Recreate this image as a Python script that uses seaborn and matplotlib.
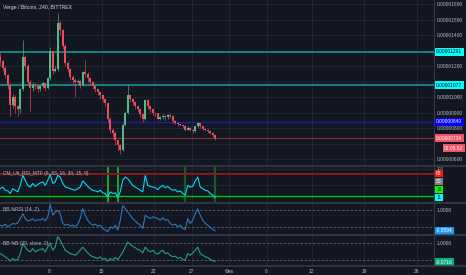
import matplotlib
matplotlib.use("Agg")
import matplotlib.pyplot as plt
import matplotlib.dates as mdates
from matplotlib.lines import Line2D
import pandas as pd
import seaborn as sns

# ---------------- data ----------------
title = "Verge / Bitcoin, 240, BITTREX"
rsi_title = "CM_Ult_RSI_MTF (6, 83, 16, 30, 15, 9)"
bbr_title = "BB %RSI (14, 2)"
bbb_title = "BB %B (20, close, 2)"

start_time = "2018-01-01 12:00"
bar_freq = "8h"

# prices in satoshi (1e-8 BTC)
opens = [1260, 1230, 1190, 1140, 1080, 950, 1000, 940, 920, 1050,
         1260, 1200, 1100, 1060, 1080, 1070, 1050, 1070, 1090, 1060,
         1120, 1300, 1170, 1180, 1480, 1430, 1330, 1220, 1180, 1130,
         1110, 1100, 1105, 1080, 1160, 1150, 1120, 1100, 1070, 1050,
         1030, 1010, 985, 960, 860, 790, 770, 720, 690, 660,
         820, 900, 1010, 990, 970, 940, 925, 890, 860, 980,
         940, 920, 900, 895, 860, 870, 880, 868, 885, 875,
         845, 835, 825, 820, 810, 790, 800, 790, 780, 810,
         830, 810, 795, 790, 780, 770, 755]
closes = [1230, 1190, 1140, 1080, 950, 1000, 940, 920, 1050, 1260,
          1200, 1100, 1060, 1080, 1070, 1050, 1070, 1090, 1060, 1120,
          1300, 1170, 1180, 1480, 1430, 1330, 1220, 1180, 1130, 1110,
          1100, 1105, 1080, 1160, 1150, 1120, 1100, 1070, 1050, 1030,
          1010, 985, 960, 860, 790, 770, 720, 690, 660, 820,
          900, 1010, 990, 970, 940, 925, 890, 860, 980, 940,
          920, 900, 895, 860, 870, 880, 868, 885, 875, 845,
          835, 825, 820, 810, 790, 800, 790, 780, 810, 830,
          810, 795, 790, 780, 770, 755, 734]
highs = [1290, 1240, 1200, 1150, 1090, 1020, 1010, 950, 1060, 1370,
         1270, 1210, 1110, 1100, 1090, 1080, 1080, 1100, 1095, 1130,
         1320, 1300, 1200, 1540, 1490, 1440, 1340, 1230, 1190, 1140,
         1120, 1115, 1110, 1170, 1240, 1160, 1125, 1105, 1075, 1055,
         1035, 1015, 990, 965, 870, 800, 780, 725, 700, 830,
         910, 1080, 1020, 995, 975, 945, 930, 895, 990, 985,
         945, 925, 905, 900, 880, 890, 885, 890, 890, 880,
         850, 840, 828, 822, 812, 810, 805, 795, 815, 840,
         832, 812, 798, 792, 782, 772, 757]
lows = [1200, 1170, 1120, 1050, 880, 930, 900, 880, 900, 1040,
        1180, 1080, 910, 1040, 1050, 1030, 1040, 1060, 1040, 1050,
        1110, 1150, 1160, 1170, 1400, 1310, 1200, 1160, 1110, 1090,
        1000, 1090, 1060, 1070, 1130, 1100, 1080, 1050, 1030, 1010,
        990, 970, 940, 840, 770, 740, 690, 660, 630, 650,
        810, 890, 970, 950, 920, 910, 870, 840, 850, 925,
        905, 885, 880, 850, 855, 860, 855, 860, 865, 835,
        825, 815, 810, 800, 780, 785, 780, 770, 775, 800,
        800, 785, 780, 770, 760, 745, 725]

rsi = [39, 44, 34, 32, 24, 39, 34, 29, 49, 80,
       65, 49, 44, 55, 46, 52, 57, 60, 49, 65,
       83, 55, 60, 80, 75, 55, 44, 42, 39, 36,
       34, 39, 44, 63, 55, 46, 39, 34, 32, 29,
       34, 26, 24, 14, 29, 24, 26, 12, 29, 65,
       75, 70, 60, 49, 44, 39, 34, 29, 80, 49,
       46, 44, 42, 36, 44, 49, 42, 46, 39, 34,
       36, 29, 32, 24, 19, 49, 44, 46, 63, 75,
       44, 39, 34, 32, 24, 19, 11]
bb_rsi = [0.12, 0.06, 0.18, 0.02, 0.12, 0.22, 0.18, 0.26, 0.51, 0.80,
          0.51, 0.37, 0.41, 0.51, 0.37, 0.45, 0.41, 0.51, 0.37, 0.61,
          1.35, 0.71, 0.90, 1.00, 0.80, 0.22, 0.12, 0.18, 0.06, 0.12,
          0.02, 0.18, 0.51, 1.10, 0.71, 0.41, 0.22, 0.12, 0.18, 0.06,
          0.12, -0.08, -0.18, -0.27, 0.02, -0.08, 0.12, -0.18, 0.41, 1.29,
          1.10, 0.90, 0.71, 0.51, 0.37, 0.22, 0.12, -0.08, 0.71, 0.61,
          0.51, 0.61, 0.57, 0.51, 0.41, 0.57, 0.41, 0.45, 0.22, 0.12,
          0.18, 0.02, 0.12, -0.08, -0.14, 0.51, 0.22, 0.41, 0.80, 1.10,
          0.71, 0.41, 0.22, 0.12, -0.02, -0.14, -0.22]
bb_b = [0.39, 0.29, 0.20, 0.10, -0.06, 0.10, 0.00, 0.04, 0.39, 0.98,
        0.78, 0.59, 0.49, 0.69, 0.49, 0.59, 0.63, 0.69, 0.49, 0.78,
        1.02, 0.59, 0.78, 1.41, 1.18, 0.88, 0.59, 0.49, 0.39, 0.35,
        0.29, 0.43, 0.59, 0.78, 0.59, 0.43, 0.29, 0.20, 0.16, 0.10,
        0.20, 0.04, 0.10, -0.06, 0.10, 0.00, 0.16, 0.04, 0.24, 0.49,
        0.78, 1.08, 0.94, 0.82, 0.75, 0.63, 0.59, 0.43, 0.78, 0.59,
        0.49, 0.59, 0.43, 0.35, 0.49, 0.59, 0.39, 0.43, 0.29, 0.20,
        0.24, 0.10, 0.16, 0.04, 0.00, 0.39, 0.29, 0.43, 0.59, 0.78,
        0.39, 0.29, 0.20, 0.16, 0.04, -0.04, -0.07]

teal_levels = [1291, 1077]
blue_level = 840
grid_prices = [600, 700, 800, 900, 1000, 1100, 1200, 1300, 1400, 1500, 1600]
label_prices = [600, 800, 900, 1000, 1200, 1400, 1500, 1600]
rsi_upper, rsi_mid, rsi_lower = 83, 50, 16
bright_marks = ["2018-01-15 20:00", "2018-01-17 04:00"]
dim_marks = ["2018-01-26 04:00", "2018-01-30 04:00"]
tick_dates = ["2018-01-08", "2018-01-15", "2018-01-22", "2018-01-27", "2018-02-01",
              "2018-02-06", "2018-02-12", "2018-02-19", "2018-02-26"]
tick_labels = ["8", "15", "22", "27", "Фев", "6", "12", "19", "26"]
countdown = "02:05:52"

# ---------------- style ----------------
BG = "#131722"
GRID = "#232733"
SEP = "#3a3e4a"
TXT = "#b8bbc4"
UP, DOWN = "#53b987", "#eb4d5c"
FS = 3.5

sns.set_theme(style="dark", rc={"axes.facecolor": BG, "figure.facecolor": BG,
                                "axes.edgecolor": BG, "text.color": TXT,
                                "xtick.color": TXT, "ytick.color": TXT})
plt.rcParams["font.family"] = ["Liberation Sans", "DejaVu Sans"]

df = pd.DataFrame({"time": pd.date_range(start_time, periods=len(closes), freq=bar_freq),
                   "open": opens, "high": highs, "low": lows, "close": closes,
                   "rsi": rsi, "bb_rsi": bb_rsi, "bb_b": bb_b})
df["x"] = mdates.date2num(df["time"])

W, H = 466, 275
fig = plt.figure(figsize=(W / 100, H / 100), dpi=100)


def rect(x0, y0, x1, y1):
    return [x0 / W, 1 - y1 / H, (x1 - x0) / W, (y1 - y0) / H]


PLOT_R = 434
ax = fig.add_axes(rect(0, 0, PLOT_R, 165))
ax_rsi = fig.add_axes(rect(0, 166.5, PLOT_R, 202), sharex=ax)
ax_br = fig.add_axes(rect(0, 203.5, PLOT_R, 234), sharex=ax)
ax_bb = fig.add_axes(rect(0, 235.5, PLOT_R, 266), sharex=ax)

D0 = mdates.date2num(pd.Timestamp("2018-01-01"))
tick_x = mdates.date2num(pd.to_datetime(tick_dates))

for a in (ax, ax_rsi, ax_br, ax_bb):
    a.set_facecolor(BG)
    for s in a.spines.values():
        s.set_visible(False)
    for tx in tick_x:
        a.axvline(tx, color=GRID, lw=0.7, zorder=0)
    a.yaxis.tick_right()
    a.tick_params(axis="y", length=0, pad=2.2, labelsize=FS, colors=TXT)
    a.tick_params(axis="x", length=0, labelbottom=False)
    a.grid(False)
ax.set_xlim(D0 + 0.4667, D0 + 58.333)

# ---------- main price panel ----------
ax.set_ylim(561.5, 1626)
for p in grid_prices:
    ax.axhline(p, color=GRID, lw=0.7, zorder=0)
ax.set_yticks(label_prices)
ax.set_yticklabels([f"{p / 1e8:.8f}" for p in label_prices])

up = df["close"] >= df["open"]
for mask, col in ((up, UP), (~up, DOWN)):
    d = df[mask]
    ax.vlines(d["x"], d["low"], d["high"], color=col, lw=0.45, zorder=3)
    body = (d["close"] - d["open"]).abs().clip(lower=3)
    ax.bar(d["x"], body, bottom=d[["open", "close"]].min(axis=1), width=0.22,
           color=col, edgecolor="none", zorder=4)

for lv in teal_levels:
    ax.axhline(lv, color="#188a8a", lw=1.3, zorder=2)
ax.axhline(blue_level, color="#1d1fa3", lw=1.0, zorder=2)
ax.axhline(closes[-1], color="#8e2a37", lw=0.8, zorder=2)

LX = 436.2 / PLOT_R


def box(a, y, text, fc, tc, trans=None, x=LX):
    a.text(x, y, text, transform=trans or a.get_yaxis_transform(), ha="left", va="center",
           fontsize=FS, color=tc, clip_on=False, zorder=20,
           bbox=dict(boxstyle="square,pad=0.28", fc=fc, ec="none"))


for lv in teal_levels:
    box(ax, lv, f"{lv / 1e8:.8f}", "#00ffff", "#0a0a0a")
box(ax, blue_level, f"{blue_level / 1e8:.8f}", "#0000ff", "#ffffff")
box(ax, closes[-1], f"{closes[-1] / 1e8:.8f}", "#ef5565", "#ffffff")
ax.text(444 / PLOT_R, 1 - 148 / 165, countdown, transform=ax.transAxes, ha="left", va="center",
        fontsize=FS, color="#ffffff", clip_on=False, zorder=21,
        bbox=dict(boxstyle="square,pad=0.28", fc="#ef5565", ec="none"))
fig.text(3 / W, 1 - 8 / H, title, fontsize=3.7, color="#d8dae0", va="center", ha="left")

# ---------- RSI panel ----------
ax_rsi.set_ylim(-2.3, 107.4)
ax_rsi.axhline(rsi_mid, color=GRID, lw=0.7, zorder=0)
ax_rsi.axhline(100, color=GRID, lw=0.7, zorder=0)
ax_rsi.axhline(rsi_upper, color="#8b1a1a", lw=1.4, zorder=2)
ax_rsi.axhline(rsi_lower, color="#00c400", lw=1.0, zorder=2)
for m in bright_marks:
    ax_rsi.axvline(mdates.date2num(pd.Timestamp(m)), color="#22ee22", lw=1.1, alpha=0.85, zorder=1)
for m in dim_marks:
    ax_rsi.axvline(mdates.date2num(pd.Timestamp(m)), color="#1f5f24", lw=1.6, alpha=0.9, zorder=1)
sns.lineplot(data=df, x="x", y="rsi", ax=ax_rsi, color="#00e5ff", lw=0.75, zorder=5)
ax_rsi.set_yticks([100])
ax_rsi.set_yticklabels(["100"])
ax_rsi.tick_params(axis="y", labelsize=3.0)
rt = ax_rsi.transAxes
box(ax_rsi, 1 - (173.5 - 166.5) / 35.5, "83", "#ff1a1a", "#ffffff", rt)
box(ax_rsi, 1 - (181.5 - 166.5) / 35.5, "50", "#808080", "#ffffff", rt)
box(ax_rsi, 1 - (189.5 - 166.5) / 35.5, "16", "#00ff00", "#0a0a0a", rt)
box(ax_rsi, 1 - (197.5 - 166.5) / 35.5, "11", "#00ffff", "#0a0a0a", rt)
fig.text(3 / W, 1 - 174 / H, rsi_title, fontsize=FS, color=TXT, va="center", ha="left")

# ---------- BB %RSI panel ----------
ax_br.set_ylim(-0.41, 1.41)
for lv in (1, 0):
    ax_br.axhline(lv, color="#5d606b", lw=0.6, dashes=(3, 2), zorder=1)
sns.lineplot(data=df, x="x", y="bb_rsi", ax=ax_br, color="#2f7dc0", lw=0.75, zorder=5)
ax_br.set_yticks([1])
ax_br.set_yticklabels(["1.0000"])
box(ax_br, 1 - (231 - 203.5) / 30.5, "-0.9594", "#2196f3", "#ffffff", ax_br.transAxes)
fig.text(3 / W, 1 - 210 / H, bbr_title, fontsize=FS, color=TXT, va="center", ha="left")

# ---------- BB %B panel ----------
ax_bb.set_ylim(-0.35, 1.47)
for lv in (1, 0):
    ax_bb.axhline(lv, color="#5d606b", lw=0.6, dashes=(3, 2), zorder=1)
sns.lineplot(data=df, x="x", y="bb_b", ax=ax_bb, color="#26a67c", lw=0.75, zorder=5)
ax_bb.set_yticks([1])
ax_bb.set_yticklabels(["1.0000"])
box(ax_bb, 1 - (262 - 235.5) / 30.5, "-0.0716", "#0bb07c", "#ffffff", ax_bb.transAxes)
fig.text(3 / W, 1 - 243 / H, bbb_title, fontsize=FS, color=TXT, va="center", ha="left")

for a in (ax, ax_rsi, ax_br, ax_bb):
    a.set_xlabel("")
    a.set_ylabel("")
ax_bb.set_xticks(tick_x)
ax_bb.set_xticklabels(tick_labels)
ax_bb.tick_params(axis="x", labelbottom=True, length=1.2, width=0.5, color="#4a4e5a",
                  pad=1.0, labelsize=FS, colors=TXT)
ax_bb.set_xlim(D0 + 0.4667, D0 + 58.333)

# separators and price-axis border
for yy in (165.75, 202.75, 234.75, 266.3):
    fig.add_artist(Line2D([0, 1], [1 - yy / H] * 2, color=SEP, lw=1.1))
fig.add_artist(Line2D([PLOT_R / W] * 2, [1 - 266.3 / H, 1], color=SEP, lw=0.7))

fig.savefig("out.png", dpi=100, facecolor=BG)
